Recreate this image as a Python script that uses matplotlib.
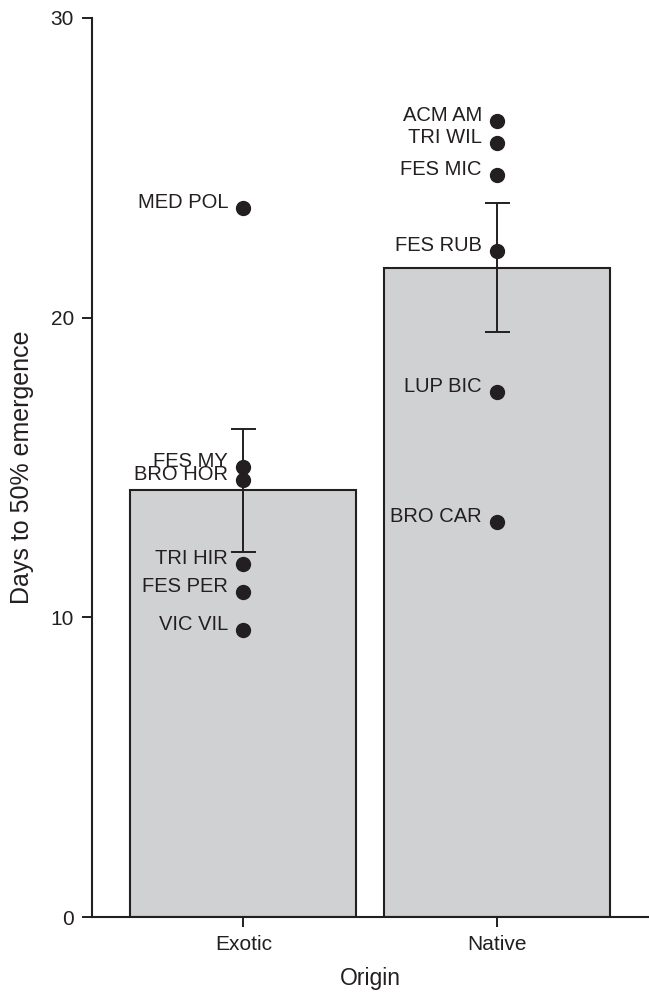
import matplotlib
matplotlib.use("Agg")
import matplotlib.pyplot as plt

# ── data ──────────────────────────────────────────────────────────────────────
origins = ["Exotic", "Native"]
means = [14.25, 21.65]
err_low = [12.18, 19.52]
err_high = [16.28, 23.82]

exotic_species = ["MED POL", "FES MY", "BRO HOR", "TRI HIR", "FES PER", "VIC VIL"]
exotic_days = [23.66, 15.02, 14.58, 11.78, 10.84, 9.58]

native_species = ["ACM AM", "TRI WIL", "FES MIC", "FES RUB", "LUP BIC", "BRO CAR"]
native_days = [26.56, 25.83, 24.76, 22.22, 17.52, 13.18]

yticks = [0, 10, 20, 30]

# ── plot ──────────────────────────────────────────────────────────────────────
plt.rcParams["font.family"] = ["Liberation Sans", "DejaVu Sans"]
dark = "#231F20"

fig = plt.figure(figsize=(6.49, 9.92), dpi=100)
ax = fig.add_axes([0.1418, 0.0756, 0.8582, 0.9063])

xpos = list(range(len(origins)))
ax.bar(xpos, means, width=0.89, color="#D0D1D3", edgecolor=dark, linewidth=1.5, zorder=1)

yerr = [[m - lo for m, lo in zip(means, err_low)],
        [hi - m for m, hi in zip(means, err_high)]]
ax.errorbar(xpos, means, yerr=yerr, fmt="none", ecolor=dark,
            elinewidth=1.4, capsize=9, capthick=1.4, zorder=2)

for x, names, vals in [(0, exotic_species, exotic_days), (1, native_species, native_days)]:
    ax.plot([x] * len(vals), vals, "o", color=dark, markersize=10, zorder=3)
    for name, v in zip(names, vals):
        ax.annotate(name, (x, v), xytext=(-11, 4), textcoords="offset points",
                    ha="right", va="center", fontsize=14.5, color=dark, zorder=4)

ax.set_xlim(-0.596, 1.598)
ax.set_ylim(0, 30)
ax.set_xticks(xpos)
ax.set_xticklabels(origins)
ax.set_yticks(yticks)
ax.tick_params(direction="out", length=7, width=1.4, colors=dark, labelsize=15, pad=6)

for side in ["top", "right"]:
    ax.spines[side].set_visible(False)
for side in ["left", "bottom"]:
    ax.spines[side].set_linewidth(1.5)
    ax.spines[side].set_color(dark)

ax.set_xlabel("Origin", fontsize=16.5, color=dark, labelpad=9)
ax.set_ylabel("Days to 50% emergence", fontsize=18, color=dark, labelpad=12)

fig.savefig("out.png", dpi=100)
